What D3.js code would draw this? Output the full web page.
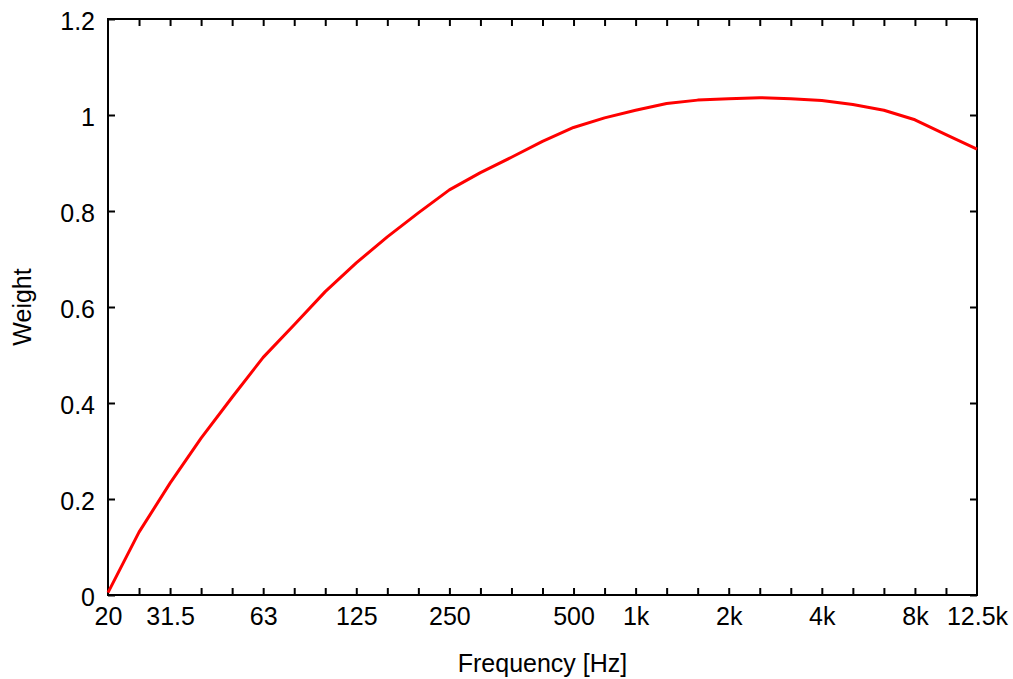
<!DOCTYPE html>
<html>
<head>
<meta charset="utf-8">
<script src="https://cdn.jsdelivr.net/npm/d3@7"></script>
<style>
  body { margin: 0; background: #fff; }
  text { font-family: "Liberation Sans", Arial, sans-serif; fill: #000; }
</style>
</head>
<body>
<script>
// 1/3 octave bands, 20 Hz .. 12.5 kHz
var bands = ['20', '25', '31.5', '40', '50', '63', '80', '100', '125', '160', '200', '250',
  '315', '400', '500', '630', '800', '1k', '1.25k', '1.6k', '2k', '2.5k', '3.15k', '4k',
  '5k', '6.3k', '8k', '10k', '12.5k'];

var weights = [0.005, 0.131, 0.233, 0.327, 0.412, 0.495, 0.563, 0.632, 0.692, 0.746, 0.796,
  0.844, 0.880, 0.912, 0.945, 0.974, 0.994, 1.010, 1.024, 1.031, 1.034, 1.036, 1.034,
  1.030, 1.022, 1.010, 0.990, 0.959, 0.929];

var xLabelIdx = [0, 2, 5, 8, 11, 15, 17, 20, 23, 26, 28];
var xLabels = ['20', '31.5', '63', '125', '250', '500', '1k', '2k', '4k', '8k', '12.5k'];

var yTicks = [0, 0.2, 0.4, 0.6, 0.8, 1, 1.2];
var yLabels = ['0', '0.2', '0.4', '0.6', '0.8', '1', '1.2'];

var width = 1013;
var height = 679;
var margin = { left: 108, right: 36, top: 19, bottom: 84 };
var fontSize = 25;

var xScale = d3.scaleLinear()
  .domain([0, bands.length - 1])
  .range([margin.left, width - margin.right]);

var yScale = d3.scaleLinear()
  .domain([0, 1.2])
  .range([height - margin.bottom, margin.top]);

var svg = d3.select('body')
  .append('svg')
  .attr('width', width)
  .attr('height', height);

// minor ticks, every band, top and bottom
svg.append('g')
  .attr('transform', 'translate(0,' + (height - margin.bottom) + ')')
  .call(d3.axisBottom(xScale).tickValues(d3.range(1, bands.length - 1)).tickSize(-7).tickFormat(''));
svg.append('g')
  .attr('transform', 'translate(0,' + margin.top + ')')
  .call(d3.axisTop(xScale).tickValues(d3.range(1, bands.length - 1)).tickSize(-7).tickFormat(''));

// x labels
svg.append('g')
  .attr('class', 'x axis')
  .attr('transform', 'translate(0,' + (height - margin.bottom) + ')')
  .call(d3.axisBottom(xScale)
    .tickValues(xLabelIdx)
    .tickSize(0)
    .tickPadding(12)
    .tickFormat(function(d) { return xLabels[xLabelIdx.indexOf(d)]; }));

// y axes
var yAxis = svg.append('g')
  .attr('class', 'y axis')
  .attr('transform', 'translate(' + margin.left + ',0)')
  .call(d3.axisLeft(yScale)
    .tickValues(yTicks)
    .tickSize(-7)
    .tickPadding(13)
    .tickFormat(function(d, i) { return yLabels[i]; }));

svg.append('g')
  .attr('transform', 'translate(' + (width - margin.right) + ',0)')
  .call(d3.axisRight(yScale).tickValues(yTicks).tickSize(-7).tickFormat(''));

svg.selectAll('.domain').remove();
svg.selectAll('.tick line').attr('stroke', '#000').attr('stroke-width', 2);
svg.selectAll('.tick text')
  .style('font-family', '"Liberation Sans", Arial, sans-serif')
  .style('font-size', fontSize + 'px');

yAxis.selectAll('.tick text').attr('dy', '0.4em');

// frame
svg.append('rect')
  .attr('x', margin.left)
  .attr('y', margin.top)
  .attr('width', width - margin.left - margin.right)
  .attr('height', height - margin.top - margin.bottom)
  .attr('fill', 'none')
  .attr('stroke', '#000')
  .attr('stroke-width', 2);

var line = d3.line()
  .x(function(d, i) { return xScale(i); })
  .y(function(d) { return yScale(d); });

svg.append('path')
  .datum(weights)
  .attr('d', line)
  .attr('fill', 'none')
  .attr('stroke', '#ff0000')
  .attr('stroke-width', 3)
  .attr('stroke-linejoin', 'round');

svg.append('text')
  .attr('x', (margin.left + width - margin.right) / 2)
  .attr('y', 672)
  .attr('text-anchor', 'middle')
  .style('font-size', fontSize + 'px')
  .text('Frequency [Hz]');

svg.append('text')
  .attr('transform', 'translate(31,' + ((margin.top + height - margin.bottom) / 2) + ') rotate(-90)')
  .attr('text-anchor', 'middle')
  .style('font-size', fontSize + 'px')
  .text('Weight');
</script>
</body>
</html>
